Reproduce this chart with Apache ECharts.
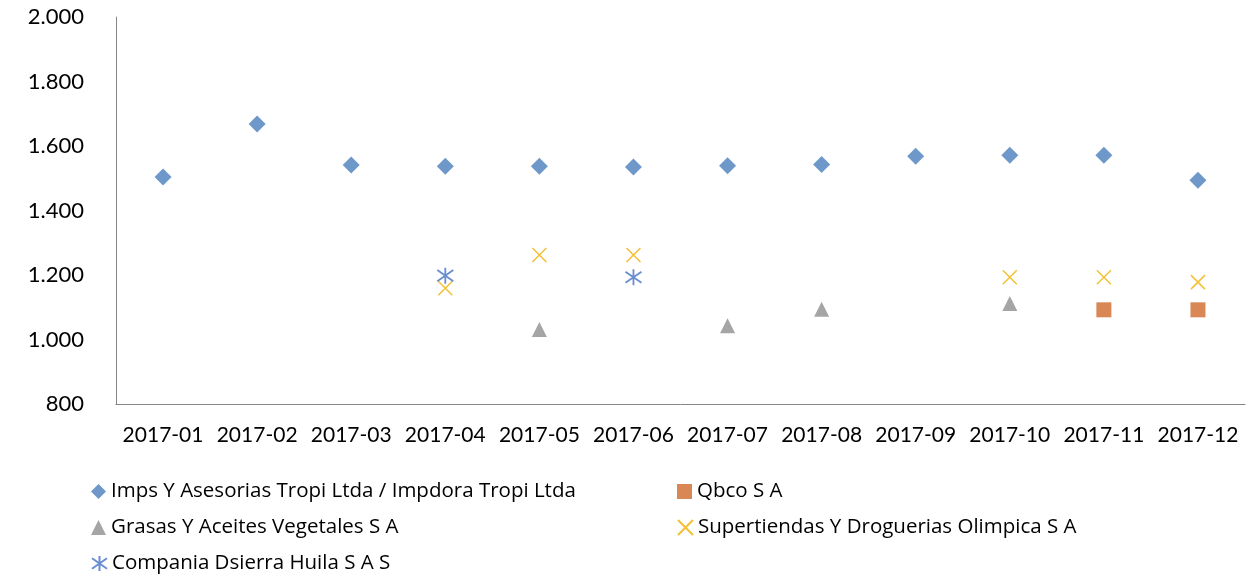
<!DOCTYPE html>
<html>
<head>
<meta charset="utf-8">
<script src="https://cdn.jsdelivr.net/npm/echarts@6/dist/echarts.min.js"></script>
<style>
  html, body { margin: 0; padding: 0; background: #fff; }
  #chart { width: 1255px; height: 579px; }
</style>
</head>
<body>
<div id="chart"></div>
<script>
// meses
const months = ["2017-01", "2017-02", "2017-03", "2017-04", "2017-05", "2017-06",
  "2017-07", "2017-08", "2017-09", "2017-10", "2017-11", "2017-12"];

const yTicks = [800, 1000, 1200, 1400, 1600, 1800, 2000];

const names = [
  "Imps Y Asesorias Tropi Ltda / Impdora Tropi Ltda",
  "Qbco S A",
  "Grasas Y Aceites Vegetales S A",
  "Supertiendas Y Droguerias Olimpica S A",
  "Compania Dsierra Huila S A S"
];

// valores por serie (null = sin dato)
const tropi = [1504, 1668, 1541, 1537, 1537, 1535, 1539, 1543, 1568, 1571, 1571, 1494];
const qbco = [null, null, null, null, null, null, null, null, null, null, 1092, 1092];
const grasas = [null, null, null, null, 1031, null, 1043, 1094, null, 1112, null, null];
const olimpica = [null, null, null, 1159, 1262, 1262, null, null, null, 1193, 1193, 1178];
const dsierra = [null, null, null, 1198, null, 1193, null, null, null, null, null, null];

const crossPath = "path://M0 0 L10 10 M10 0 L0 10";
const starPath = "path://M0 1.5 L10 8.5 M10 1.5 L0 8.5 M5 0 L5 10";

const fontName = "Lato, 'Open Sans', sans-serif";

function fmt(v) {
  if (v >= 1000) {
    return Math.floor(v / 1000) + "." + String(v % 1000).padStart(3, "0");
  }
  return String(v);
}

const chart = echarts.init(document.getElementById("chart"));

const legendPos = [
  { left: 91, top: 480 },
  { left: 677, top: 480 },
  { left: 91, top: 516 },
  { left: 677, top: 516 },
  { left: 91, top: 552 }
];

const option = {
  animation: false,
  textStyle: { fontFamily: fontName },
  grid: { left: 116, right: 10, top: 17, bottom: 175 },
  legend: names.map((n, i) => ({
    data: [n],
    left: legendPos[i].left,
    top: legendPos[i].top,
    padding: 0,
    itemWidth: 15,
    itemHeight: 15,
    textStyle: { fontSize: 20.5, color: "#000", fontFamily: "'Open Sans', sans-serif", lineHeight: 23 }
  })),
  xAxis: {
    type: "category",
    data: months,
    boundaryGap: true,
    axisLine: { lineStyle: { color: "#868686", width: 1 } },
    axisTick: { show: false },
    axisLabel: { color: "#000", fontSize: 21, margin: 21, interval: 0 }
  },
  yAxis: {
    type: "value",
    min: yTicks[0],
    max: yTicks[yTicks.length - 1],
    interval: 200,
    axisLine: { show: true, lineStyle: { color: "#868686", width: 1 } },
    axisTick: { show: false },
    splitLine: { show: false },
    axisLabel: { color: "#000", fontSize: 22, margin: 32, formatter: fmt }
  },
  series: [
    {
      name: names[0], type: "scatter", data: tropi,
      symbol: "diamond", symbolSize: 17,
      itemStyle: { color: "#4a7ebb" }
    },
    {
      name: names[1], type: "scatter", data: qbco,
      symbol: "rect", symbolSize: 15,
      itemStyle: { color: "#d0692a" }
    },
    {
      name: names[2], type: "scatter", data: grasas,
      symbol: "triangle", symbolSize: 15,
      itemStyle: { color: "#8f8f8f" }
    },
    {
      name: names[3], type: "scatter", data: olimpica,
      symbol: crossPath, symbolSize: 14,
      itemStyle: { color: "transparent", borderColor: "#f0b000", borderWidth: 1.5 }
    },
    {
      name: names[4], type: "scatter", data: dsierra,
      symbol: starPath, symbolSize: 16,
      itemStyle: { color: "transparent", borderColor: "#4472c4", borderWidth: 1.8 }
    }
  ]
};

chart.setOption(option);
</script>
</body>
</html>
